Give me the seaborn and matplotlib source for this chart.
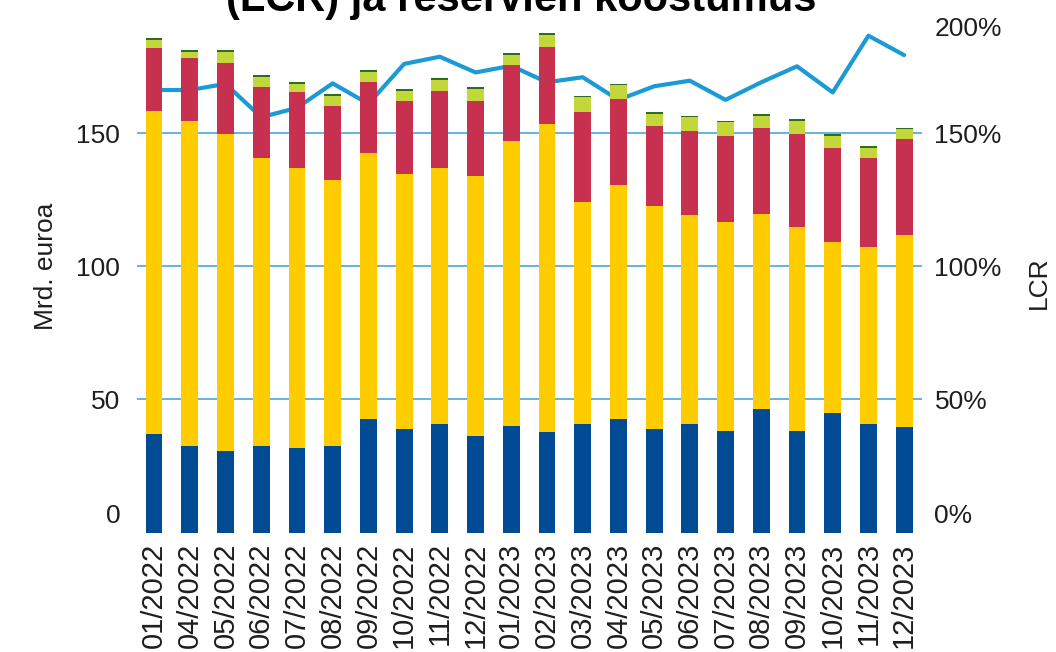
import numpy as np
import pandas as pd
import matplotlib
matplotlib.use("Agg")
import matplotlib.pyplot as plt
import seaborn as sns
from matplotlib.ticker import FixedLocator
from matplotlib.transforms import ScaledTranslation

# ---------------- data ----------------
months = ["01/2022", "04/2022", "05/2022", "06/2022", "07/2022", "08/2022",
          "09/2022", "10/2022", "11/2022", "12/2022", "01/2023", "02/2023",
          "03/2023", "04/2023", "05/2023", "06/2023", "07/2023", "08/2023",
          "09/2023", "10/2023", "11/2023", "12/2023"]
blue = [37.0, 32.5, 30.7, 32.5, 31.8, 32.5, 42.6, 38.8, 40.7, 36.3, 40.1,
        37.6, 40.7, 42.6, 38.8, 40.7, 38.1, 46.3, 38.1, 45.1, 40.7, 39.5]
yellow = [121.5, 122.2, 119.0, 108.3, 105.2, 100.0, 100.0, 95.7, 96.3, 97.5, 107.1,
          115.9, 83.6, 88.1, 83.7, 78.4, 78.5, 73.4, 76.6, 64.0, 66.5, 72.1]
red = [23.3, 23.4, 26.5, 26.5, 28.4, 27.8, 26.7, 27.7, 29.0, 28.4, 28.4,
       29.0, 33.5, 32.1, 30.2, 31.7, 32.4, 32.4, 34.9, 35.5, 33.5, 36.1]
light_green = [3.3, 2.5, 4.4, 3.8, 3.1, 3.8, 3.8, 3.8, 4.0, 4.5, 3.9,
               4.5, 5.7, 5.1, 4.5, 5.1, 5.1, 4.4, 5.0, 4.5, 3.9, 3.8]
dark_green = [0.6, 0.6, 0.6, 0.6, 0.6, 0.6, 0.6, 0.6, 0.6, 0.6, 0.6,
              0.6, 0.6, 0.6, 0.6, 0.6, 0.6, 0.6, 0.6, 0.6, 0.6, 0.6]
lcr = [166.2, 166.2, 168.5, 156.0, 159.5, 168.7, 161.0, 176.0, 178.7, 172.8, 175.3,
       169.1, 171.0, 162.5, 167.6, 169.7, 162.5, 169.1, 175.1, 165.3, 186.6, 179.3]

left_ticks = [0, 50, 100, 150]
left_tick_labels = ["0", "50", "100", "150"]
grid_levels = [50, 100, 150]
right_ticks = [0, 50, 100, 150, 200]
right_tick_labels = ["0%", "50%", "100%", "150%", "200%"]

title = "(LCR) ja reservien koostumus"
ylabel_left = "Mrd. euroa"
ylabel_right = "LCR"

# ---------------- style ----------------
sns.set_theme(style="white")
plt.rcParams["font.family"] = ["Liberation Sans", "DejaVu Sans"]

seg_colors = ["#004B93", "#FFCC00", "#C7304F", "#C3D73A", "#2F6B22"]
line_color = "#1C9AD6"
grid_color = "#4AA8D8"
text_color = "#1e1e1e"

fig = plt.figure(figsize=(10.56, 6.52), dpi=100)
ax = fig.add_axes([0.1297, 0.1831, 0.7434, 0.8169])
ax2 = ax.twinx()

layers = np.vstack([blue, yellow, red, light_green, dark_green])
cum = np.cumsum(layers, axis=0)

for i in reversed(range(layers.shape[0])):
    df = pd.DataFrame({"month": months, "value": cum[i]})
    sns.barplot(data=df, x="month", y="value", order=months, color=seg_colors[i],
                saturation=1, width=0.47, errorbar=None, ax=ax,
                linewidth=0, edgecolor="none", zorder=3)

sns.lineplot(x=np.arange(len(months)), y=lcr, ax=ax2, color=line_color,
             linewidth=3.0, zorder=2)

# layering: bars (ax) above line (ax2)
ax.set_zorder(2)
ax2.set_zorder(1)
ax.patch.set_visible(False)

ax.set_xlim(-0.48, 21.5)
ax.set_ylim(0, 200)
ax2.set_ylim(0, 200)

for a in (ax, ax2):
    for s in a.spines.values():
        s.set_visible(False)

ax.set_yticks(left_ticks)
ax.set_yticklabels(left_tick_labels)
ax2.set_yticks(right_ticks)
ax2.set_yticklabels(right_tick_labels)

# gridlines at selected levels only (via minor ticks)
ax.set_axisbelow(True)
ax.grid(False)
ax2.grid(False)
ax.yaxis.remove_overlapping_locs = False
ax.yaxis.set_minor_locator(FixedLocator(grid_levels))
ax.grid(which="minor", axis="y", color=grid_color, linewidth=1.2)

ax.set_xticks(np.arange(len(months)))
ax.set_xticklabels(months, rotation=90)

ax.tick_params(axis="y", which="both", length=0, pad=12, labelsize=19, labelcolor=text_color)
ax.tick_params(axis="x", which="both", length=0, pad=7, labelsize=21, labelcolor=text_color)
ax2.tick_params(axis="y", which="both", length=0, pad=9, labelsize=19, labelcolor=text_color)
ax2.tick_params(axis="x", which="both", length=0, labelbottom=False)

ax.set_xlabel("")
ax.set_ylabel(ylabel_left, fontsize=19, color=text_color)
ax.yaxis.set_label_coords(-0.10, 0.5)
ax2.set_ylabel(ylabel_right, fontsize=19, color=text_color)
ax2.yaxis.set_label_coords(1.134, 0.47)

fig.text(0.494, 1 - 11 / 652, title, ha="center", va="baseline",
         fontsize=30, fontweight="bold", color="black")

# nudge end labels like in the reference
def shift(label, dy_px):
    label.set_transform(label.get_transform() +
                        ScaledTranslation(0, dy_px / 100, fig.dpi_scale_trans))

for lab in ax.get_yticklabels():
    if lab.get_text() == "0":
        shift(lab, 19.5)
for lab in ax2.get_yticklabels():
    if lab.get_text() == "0%":
        shift(lab, 19.5)
    elif lab.get_text() == "200%":
        shift(lab, -26)

fig.savefig("out.png", dpi=100)
